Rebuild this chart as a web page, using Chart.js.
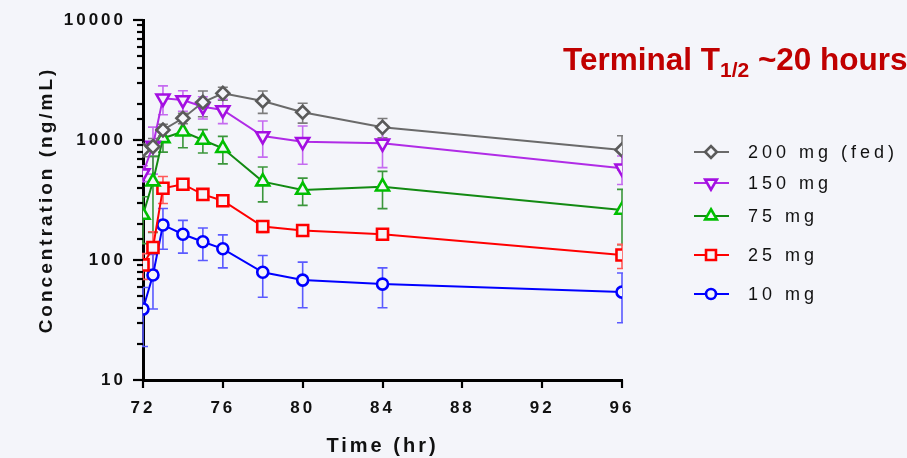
<!DOCTYPE html>
<html>
<head>
<meta charset="utf-8">
<script src="https://cdn.jsdelivr.net/npm/chart.js@4.4.1/dist/chart.umd.min.js"></script>
<style>
html, body { margin: 0; padding: 0; background: #f4f5fa; }
#wrap { width: 907px; height: 458px; position: relative; }
</style>
</head>
<body>
<div id="wrap"><canvas id="pk"></canvas></div>
<script>
// sampling times (hr) and mean +/- SD per dose
var times = [72, 72.5, 73, 74, 75, 76, 78, 80, 84, 96];
var doseLabels = ['200 mg (fed)', '150 mg', '75 mg', '25 mg', '10 mg'];
var mean200 = [826, 880, 1212, 1517, 2063, 2449, 2113, 1702, 1276, 826];
var sd200 = [100, 150, 140, 150, 500, 300, 445, 320, 235, 260];
var mean150 = [530, 900, 2225, 2154, 1895, 1778, 1080, 968, 938, 581];
var sd150 = [80, 380, 600, 420, 400, 410, 360, 340, 350, 155];
var mean75 = [237, 450, 1032, 1173, 1000, 853, 450, 383, 408, 261];
var sd75 = [100, 280, 240, 310, 220, 220, 145, 98, 140, 127];
var mean25 = [91, 127, 396, 428, 352, 312, 190, 176, 164, 110];
var sd25 = [22, 45, 100, 40, 35, 30, 20, 15, 15, 25];
var mean10 = [39, 75, 196, 164, 142, 124, 79, 68, 63, 54];
var sd10 = [20, 36, 73, 50, 43, 38, 30, 28, 23, 24];
var xTicks = [72, 76, 80, 84, 88, 92, 96];
var yTicks = [10, 100, 1000, 10000];

var BG = '#f4f5fa';
var FONT = '"Liberation Sans", Arial, sans-serif';

function pts(mean) {
  return times.map(function (t, i) { return { x: t, y: mean[i] }; });
}

function series(i, mean, sd, line, mark, err, style, r, rot) {
  return {
    label: doseLabels[i],
    data: pts(mean),
    sd: sd,
    errColor: err,
    borderColor: line,
    borderWidth: 2,
    pointStyle: style,
    pointRadius: r,
    pointRotation: rot || 0,
    pointBorderColor: mark,
    pointBackgroundColor: BG,
    pointBorderWidth: 2.6,
    tension: 0
  };
}

var errorBars = {
  id: 'errorBars',
  beforeDatasetsDraw: function (chart) {
    var ctx = chart.ctx, xs = chart.scales.x, ys = chart.scales.y;
    var a = chart.chartArea;
    ctx.save();
    ctx.beginPath();
    ctx.rect(a.left - 1, a.top - 2, a.right - a.left + 2, a.bottom - a.top + 4);
    ctx.clip();
    chart.data.datasets.forEach(function (ds) {
      ctx.strokeStyle = ds.errColor;
      ctx.lineWidth = 1.6;
      ds.data.forEach(function (p, j) {
        var x = xs.getPixelForValue(p.x);
        var hi = ys.getPixelForValue(p.y + ds.sd[j]);
        var lo = ys.getPixelForValue(Math.max(p.y - ds.sd[j], 10));
        ctx.beginPath();
        ctx.moveTo(x, hi); ctx.lineTo(x, lo);
        ctx.moveTo(x - 5, hi); ctx.lineTo(x + 5, hi);
        ctx.moveTo(x - 5, lo); ctx.lineTo(x + 5, lo);
        ctx.stroke();
      });
    });
    ctx.restore();
  }
};

var decor = {
  id: 'decor',
  beforeDraw: function (chart) {
    chart.ctx.letterSpacing = '3px';
  },
  afterDraw: function (chart) {
    var ctx = chart.ctx, xs = chart.scales.x, ys = chart.scales.y;
    var area = chart.chartArea;
    ctx.save();
    // tick marks (major long, minor short)
    ctx.strokeStyle = '#000';
    ctx.lineWidth = 2.2;
    ys.ticks.forEach(function (t) {
      var y = Math.round(ys.getPixelForValue(t.value));
      var major = yTicks.indexOf(t.value) >= 0;
      ctx.beginPath();
      ctx.moveTo(area.left - (major ? 10 : 6), y);
      ctx.lineTo(area.left, y);
      ctx.stroke();
    });
    xs.ticks.forEach(function (t) {
      var x = Math.round(xs.getPixelForValue(t.value));
      ctx.beginPath();
      ctx.moveTo(x, area.bottom);
      ctx.lineTo(x, area.bottom + 8);
      ctx.stroke();
    });

    // legend
    var rows = [152, 183, 216, 255, 294];
    ctx.font = '18px ' + FONT;
    ctx.letterSpacing = '4px';
    ctx.textBaseline = 'middle';
    ctx.textAlign = 'left';
    chart.data.datasets.forEach(function (ds, i) {
      var y = rows[i];
      ctx.strokeStyle = ds.borderColor;
      ctx.lineWidth = 2;
      ctx.beginPath();
      ctx.moveTo(694, y); ctx.lineTo(729, y);
      ctx.stroke();
      ctx.strokeStyle = ds.pointBorderColor;
      ctx.fillStyle = BG;
      ctx.lineWidth = 2.6;
      Chart.helpers.drawPoint(ctx, {
        pointStyle: ds.pointStyle,
        rotation: ds.pointRotation,
        radius: ds.pointRadius * 0.9,
        borderWidth: 2.6
      }, 711, y);
      ctx.fillStyle = '#111';
      ctx.fillText(ds.label, 748, y + 1);
    });

    // red annotation
    ctx.letterSpacing = '0px';
    ctx.fillStyle = '#c00000';
    ctx.textBaseline = 'alphabetic';
    ctx.font = 'bold 31.5px ' + FONT;
    var x = 563;
    ctx.fillText('Terminal T', x, 70);
    x += ctx.measureText('Terminal T').width;
    ctx.font = 'bold 21px ' + FONT;
    ctx.fillText('1/2', x, 77);
    x += ctx.measureText('1/2').width;
    ctx.font = 'bold 31.5px ' + FONT;
    ctx.fillText(' ~20 hours', x, 70);
    ctx.restore();
  }
};

new Chart(document.getElementById('pk'), {
  type: 'line',
  data: {
    datasets: [
      series(0, mean200, sd200, '#6a6a6a', '#5a5a5a', '#7c7c7c', 'rectRot', 6.5),
      series(1, mean150, sd150, '#b02be6', '#a40fe2', '#c56bf0', 'triangle', 7.5, 180),
      series(2, mean75, sd75, '#128a12', '#00bf00', '#3b963b', 'triangle', 7.5),
      series(3, mean25, sd25, '#ff0000', '#ff0000', '#ff5a5a', 'rect', 7.8),
      series(4, mean10, sd10, '#0000ff', '#0000ff', '#5a5aff', 'circle', 5.5)
    ]
  },
  options: {
    responsive: true,
    maintainAspectRatio: false,
    animation: false,
    layout: { padding: { top: 20, right: 285, left: 0, bottom: 0 } },
    plugins: { legend: { display: false }, tooltip: { enabled: false } },
    scales: {
      x: {
        type: 'linear',
        min: 72,
        max: 96,
        afterFit: function (s) { s.height = 78; },
        afterBuildTicks: function (s) { s.ticks = xTicks.map(function (v) { return { value: v }; }); },
        grid: { display: true, drawOnChartArea: false, drawTicks: true, tickLength: 8, tickColor: 'transparent' },
        border: { display: true, color: '#000', width: 3 },
        ticks: { padding: 10, color: '#111', font: { family: FONT, size: 17, weight: 'bold' }, maxRotation: 0 },
        title: { display: true, text: 'Time (hr)', color: '#111', padding: { top: 0, bottom: 0 }, font: { family: FONT, size: 20, weight: 'bold' } }
      },
      y: {
        type: 'logarithmic',
        min: 10,
        max: 10000,
        afterFit: function (s) { s.width = 143; },
        grid: { display: true, drawOnChartArea: false, drawTicks: true, tickLength: 10, tickColor: 'transparent' },
        border: { display: true, color: '#000', width: 3 },
        ticks: {
          autoSkip: false,
          padding: 7,
          color: '#111',
          font: { family: FONT, size: 17, weight: 'bold' },
          callback: function (v) { return yTicks.indexOf(v) >= 0 ? String(v) : ''; }
        },
        title: { display: true, text: 'Concentration (ng/mL)', color: '#111', padding: { top: 35, bottom: 0 }, font: { family: FONT, size: 19, weight: 'bold' } }
      }
    }
  },
  plugins: [errorBars, decor]
});
</script>
</body>
</html>
